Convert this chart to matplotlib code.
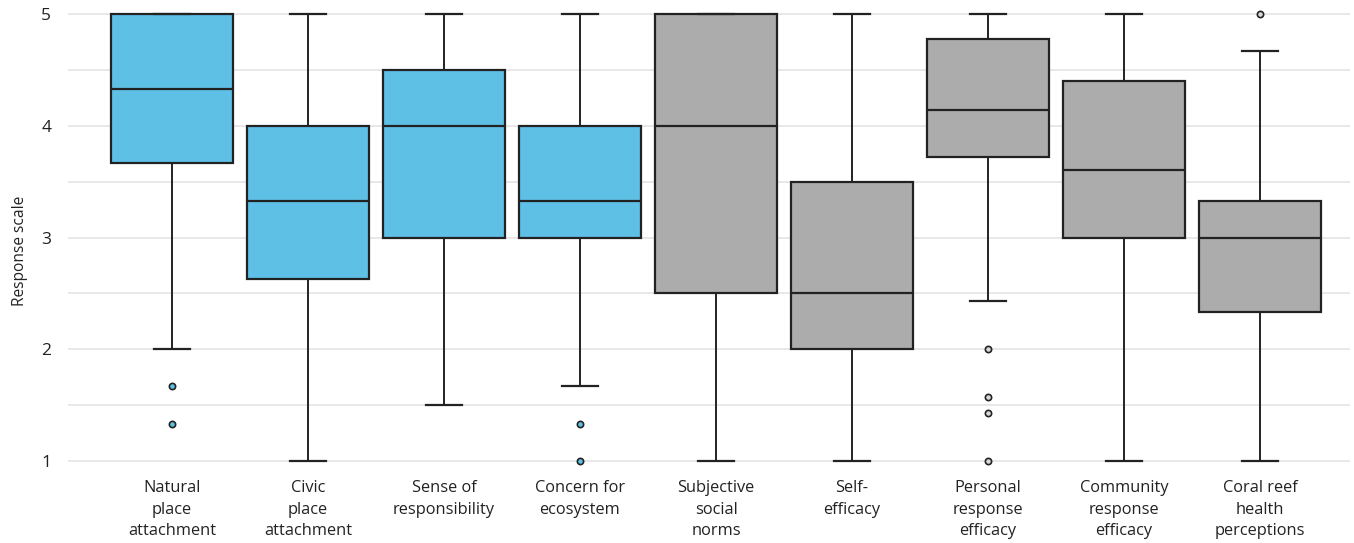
import matplotlib
matplotlib.use("Agg")
import matplotlib.pyplot as plt
from matplotlib.ticker import MultipleLocator

plt.rcParams['font.family'] = ['Open Sans', 'DejaVu Sans']

categories = [
    "Natural\nplace\nattachment",
    "Civic\nplace\nattachment",
    "Sense of\nresponsibility",
    "Concern for\necosystem",
    "Subjective\nsocial\nnorms",
    "Self-\nefficacy",
    "Personal\nresponse\nefficacy",
    "Community\nresponse\nefficacy",
    "Coral reef\nhealth\nperceptions",
]
whisker_low = [2.0, 1.0, 1.5, 1.67, 1.0, 1.0, 2.43, 1.0, 1.0]
q1 = [3.67, 2.63, 3.0, 3.0, 2.5, 2.0, 3.72, 3.0, 2.33]
median = [4.33, 3.33, 4.0, 3.33, 4.0, 2.5, 4.14, 3.6, 3.0]
q3 = [5.0, 4.0, 4.5, 4.0, 5.0, 3.5, 4.78, 4.4, 3.33]
whisker_high = [5.0, 5.0, 5.0, 5.0, 5.0, 5.0, 5.0, 5.0, 4.67]
outliers = [
    [1.67, 1.33],
    [],
    [],
    [1.33, 1.0],
    [],
    [],
    [2.0, 1.57, 1.43, 1.0],
    [],
    [5.0],
]
group = ["blue"] * 4 + ["grey"] * 5
group_colors = {"blue": "#5fc0e6", "grey": "#acacac"}
flier_fill = {"blue": "#5fc0e6", "grey": "#d8d8d8"}
yticks = [1, 2, 3, 4, 5]

W, H = 1354, 543
fig = plt.figure(figsize=(W / 100, H / 100), dpi=100)

# y: 1 -> px 461, 5 -> px 14 ; pad limits slightly
ppu = (461 - 14) / 4.0
ylo, yhi = 0.95, 5.05
top_px = 14 - (yhi - 5) * ppu
bot_px = 461 + (1 - ylo) * ppu
left_px, right_px = 68, 1350
ax = fig.add_axes([left_px / W, 1 - bot_px / H,
                   (right_px - left_px) / W, (bot_px - top_px) / H])

stats = []
for i in range(len(categories)):
    stats.append(dict(med=median[i], q1=q1[i], q3=q3[i],
                      whislo=whisker_low[i], whishi=whisker_high[i],
                      fliers=outliers[i]))

edge = "#222222"
positions = list(range(len(categories)))
bp = ax.bxp(stats, positions=positions, widths=0.9, capwidths=0.26,
            patch_artist=True, showfliers=True,
            boxprops=dict(edgecolor=edge, linewidth=1.6),
            medianprops=dict(color=edge, linewidth=1.6),
            whiskerprops=dict(color=edge, linewidth=1.4),
            capprops=dict(color=edge, linewidth=1.6),
            flierprops=dict(marker="o", markersize=4.5,
                            markeredgecolor=edge, markeredgewidth=1.2))
for patch, g in zip(bp["boxes"], group):
    patch.set_facecolor(group_colors[g])
for fl, g in zip(bp["fliers"], group):
    fl.set_markerfacecolor(flier_fill[g])
for art in bp["caps"] + bp["whiskers"] + bp["fliers"]:
    art.set_clip_on(False)

ax.set_xlim((left_px - 172) / 136, (right_px - 172) / 136)
ax.set_ylim(ylo, yhi)
ax.set_yticks(yticks)
ax.yaxis.set_minor_locator(MultipleLocator(0.5))
ax.grid(axis="y", which="both", color="#e2e2e2", linewidth=1.1)
ax.set_axisbelow(True)
for s in ax.spines.values():
    s.set_visible(False)
ax.tick_params(axis="both", which="both", length=0)
ax.tick_params(axis="y", labelsize=12.5, pad=12, colors="#222222")
ax.set_xticks(positions)
ax.set_xticklabels(categories, fontsize=11.8, linespacing=1.45, color="#222222")
ax.tick_params(axis="x", pad=10)
ax.set_ylabel("Response scale", fontsize=11.2, color="#222222")
ax.yaxis.set_label_coords(-0.031, 0.47)

fig.savefig("out.png", dpi=100)
